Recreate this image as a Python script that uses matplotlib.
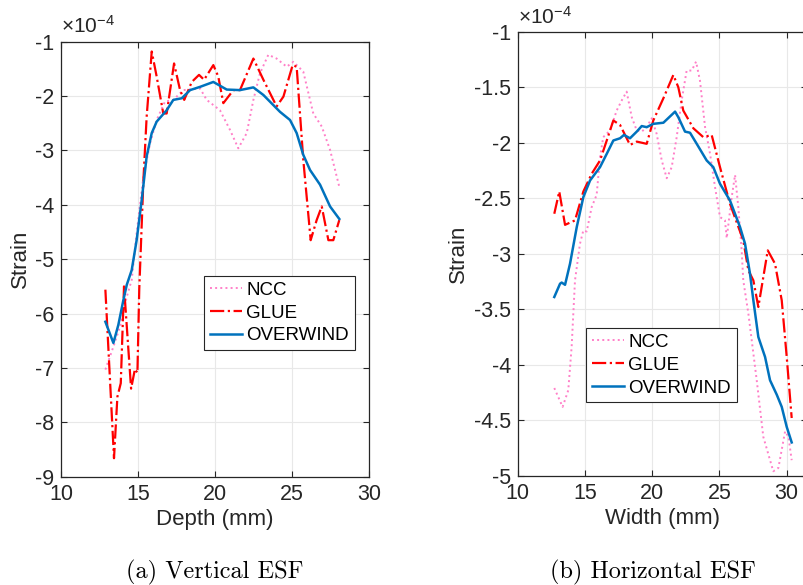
import matplotlib
matplotlib.use("Agg")
import matplotlib.pyplot as plt

plt.rcParams['font.family'] = ['Liberation Sans', 'DejaVu Sans']
plt.rcParams['axes.unicode_minus'] = False
plt.rcParams['mathtext.fontset'] = 'custom'
plt.rcParams['mathtext.rm'] = 'Liberation Sans'
plt.rcParams['mathtext.it'] = 'Liberation Sans'

# ---------------- Panel (a): Vertical ESF (strain in 1e-4) ----------------
depth_glue = [12.88, 13.44, 13.66, 13.88, 14.09, 14.55, 14.80, 14.96, 15.08, 15.35, 15.56, 15.89,
              16.21, 16.64, 16.86, 17.34, 17.73, 18.00, 18.49, 18.96, 19.29, 19.89, 20.21, 20.54,
              21.19, 21.62, 22.49, 23.14, 24.00, 24.44, 25.04, 25.30, 25.73, 26.21, 26.60, 26.93,
              27.36, 27.68, 28.07]
glue_a = [-5.56, -8.66, -7.53, -7.28, -5.50, -7.38, -7.02, -7.09, -5.55, -3.54, -2.38, -1.18,
          -1.64, -2.32, -2.32, -1.40, -1.89, -2.07, -1.74, -1.61, -1.70, -1.43, -1.64, -2.13,
          -1.89, -1.89, -1.31, -1.70, -2.19, -2.01, -1.43, -1.46, -3.17, -4.65, -4.28, -4.03,
          -4.65, -4.65, -4.28]

depth_ow = [12.88, 13.40, 13.72, 14.05, 14.27, 14.59, 14.91, 15.24, 15.56, 15.89, 16.21, 16.86,
            17.29, 17.84, 18.38, 19.03, 19.89, 20.76, 21.62, 22.49, 23.14, 24.22, 24.87, 25.30,
            25.73, 26.17, 26.82, 27.47, 28.07]
ow_a = [-6.15, -6.54, -6.21, -5.75, -5.47, -5.20, -4.65, -3.91, -3.11, -2.68, -2.47, -2.26,
        -2.07, -2.04, -1.89, -1.83, -1.74, -1.88, -1.89, -1.84, -1.98, -2.29, -2.44, -2.68,
        -3.08, -3.36, -3.63, -4.03, -4.26]

depth_ncc = [12.88, 13.40, 13.83, 14.27, 14.59, 14.91, 15.35, 15.78, 16.21, 16.75, 17.29, 17.94,
             19.03, 19.46, 20.32, 20.97, 21.51, 22.06, 22.49, 22.92, 23.46, 24.00, 24.65, 25.09,
             25.73, 26.38, 26.93, 27.47, 28.07]
ncc_a = [-7.03, -6.61, -6.24, -5.69, -5.38, -4.52, -3.48, -2.87, -2.44, -2.10, -2.07, -1.89,
         -1.86, -2.07, -2.26, -2.62, -2.96, -2.68, -2.07, -1.58, -1.24, -1.31, -1.46, -1.37,
         -1.55, -2.32, -2.56, -2.99, -3.67]

# ---------------- Panel (b): Horizontal ESF (strain in 1e-4) ----------------
width_glue = [12.72, 13.09, 13.52, 14.26, 14.88, 15.50, 16.12, 16.62, 17.11, 17.61, 18.35, 18.85,
              19.59, 20.08, 20.83, 21.57, 21.94, 22.31, 23.06, 23.80, 24.42, 25.04, 25.78, 26.77,
              27.15, 27.52, 27.89, 28.59, 29.13, 29.63, 30.00, 30.37]
glue_b = [-2.64, -2.44, -2.74, -2.70, -2.44, -2.28, -2.16, -1.98, -1.80, -1.84, -2.02, -1.99,
          -2.01, -1.80, -1.60, -1.39, -1.50, -1.71, -1.87, -1.95, -1.93, -2.22, -2.55, -2.88,
          -3.15, -3.24, -3.48, -2.97, -3.09, -3.42, -3.93, -4.48]

width_ow = [12.72, 13.15, 13.27, 13.52, 13.89, 14.39, 14.88, 15.38, 16.12, 16.62, 17.11, 17.61,
            17.90, 18.35, 18.85, 19.22, 19.59, 20.08, 20.83, 21.70, 21.94, 22.44, 22.81, 23.31,
            24.05, 24.54, 25.04, 25.78, 26.53, 26.90, 27.27, 27.52, 27.89, 28.39, 28.76, 29.26,
            29.63, 30.00, 30.37]
ow_b = [-3.39, -3.27, -3.26, -3.28, -3.09, -2.76, -2.49, -2.34, -2.22, -2.10, -1.98, -1.96,
        -1.93, -1.96, -1.90, -1.85, -1.86, -1.83, -1.82, -1.72, -1.77, -1.90, -1.91, -2.01,
        -2.16, -2.22, -2.37, -2.52, -2.76, -2.91, -3.18, -3.42, -3.75, -3.93, -4.14, -4.27,
        -4.38, -4.56, -4.70]

width_ncc = [12.72, 13.34, 13.76, 14.01, 14.26, 14.63, 14.88, 15.13, 15.50, 15.87, 16.12, 16.36,
             16.86, 17.36, 17.73, 18.10, 18.48, 18.85, 19.22, 19.59, 19.96, 20.33, 20.71, 21.08,
             21.45, 21.82, 22.19, 22.56, 22.94, 23.26, 23.55, 23.93, 24.30, 24.67, 25.04, 25.41,
             25.54, 25.91, 26.16, 26.40, 26.65, 26.77, 27.15, 27.77, 28.26, 29.00, 29.38, 29.88,
             30.13, 30.37]
ncc_b = [-4.21, -4.38, -4.23, -3.84, -3.24, -2.91, -2.79, -2.80, -2.58, -2.47, -2.13, -1.95,
         -1.89, -1.71, -1.62, -1.54, -1.77, -1.89, -1.90, -1.86, -1.78, -1.92, -2.16, -2.32,
         -2.22, -1.95, -1.62, -1.35, -1.35, -1.27, -1.44, -1.86, -2.10, -2.40, -2.67, -2.70,
         -2.86, -2.49, -2.29, -2.58, -2.97, -3.24, -3.54, -4.14, -4.65, -4.96, -4.93, -4.60,
         -4.65, -4.86]

yticks_a = [-9, -8, -7, -6, -5, -4, -3, -2, -1]
yticks_b = [-5, -4.5, -4, -3.5, -3, -2.5, -2, -1.5, -1]
xticks = [10, 15, 20, 25, 30]

C_NCC = '#ff80c8'
C_GLUE = '#ff0000'
C_OW = '#0072BD'
C_AX = '#262626'

fig = plt.figure(figsize=(8.04, 5.85), dpi=100)
axA = fig.add_axes([0.0759, 0.1851, 0.3831, 0.7436])
axB = fig.add_axes([0.6439, 0.1868, 0.3597, 0.7590])


def style(ax, yt, xlim, ylim):
    ax.set_xlim(*xlim)
    ax.set_ylim(*ylim)
    ax.set_xticks(xticks)
    ax.set_yticks(yt)
    ax.set_yticklabels([('%g' % v) for v in yt])
    ax.grid(True, color='#e8e8e8', linewidth=0.8)
    ax.set_axisbelow(True)
    ax.tick_params(direction='in', top=True, right=True, labelsize=15.5,
                   length=4, width=0.8, colors=C_AX, pad=5)
    for s in ax.spines.values():
        s.set_color(C_AX)
        s.set_linewidth(0.9)


def legend(ax, anchor):
    leg = ax.legend(loc='upper left', bbox_to_anchor=anchor, fontsize=13.5,
                    frameon=True, fancybox=False, edgecolor=C_AX, framealpha=1,
                    handlelength=1.7, handletextpad=0.25, borderpad=0.3, labelspacing=0.3,
                    borderaxespad=0)
    leg.get_frame().set_linewidth(0.8)
    return leg


# Panel A
axA.plot(depth_ncc, ncc_a, linestyle=':', color=C_NCC, lw=1.4, label='NCC')
axA.plot(depth_glue, glue_a, linestyle='-.', color=C_GLUE, lw=1.6, label='GLUE')
axA.plot(depth_ow, ow_a, linestyle='-', color=C_OW, lw=1.8, label='OVERWIND')
style(axA, yticks_a, (10, 30), (-9, -1))
axA.set_xlabel('Depth (mm)', fontsize=16, color=C_AX, labelpad=3)
axA.set_ylabel('Strain', fontsize=16, color=C_AX, labelpad=3)
axA.text(0.0, 1.012, r'$\times10^{-4}$', transform=axA.transAxes, fontsize=15,
         color=C_AX, ha='left', va='bottom')
legend(axA, (0.465, 0.461))
fig.text(0.0759 + 0.3831 / 2, 0.012, '(a) Vertical ESF', family='cmr10', fontsize=17.5,
         ha='center', va='baseline')

# Panel B
axB.plot(width_ncc, ncc_b, linestyle=':', color=C_NCC, lw=1.4, label='NCC')
axB.plot(width_glue, glue_b, linestyle='-.', color=C_GLUE, lw=1.6, label='GLUE')
axB.plot(width_ow, ow_b, linestyle='-', color=C_OW, lw=1.8, label='OVERWIND')
style(axB, yticks_b, (10, 31.5), (-5, -1))
axB.set_xlabel('Width (mm)', fontsize=16, color=C_AX, labelpad=3)
axB.set_ylabel('Strain', fontsize=16, color=C_AX, labelpad=3)
axB.text(0.0, 1.008, r'$\times10^{-4}$', transform=axB.transAxes, fontsize=15,
         color=C_AX, ha='left', va='bottom')
legend(axB, (0.237, 0.332))
fig.text(0.6439 + (787.3 - 517.7) / 804 / 2, 0.012, '(b) Horizontal ESF', family='cmr10',
         fontsize=17.5, ha='center', va='baseline')

fig.savefig('out.png', dpi=100)
